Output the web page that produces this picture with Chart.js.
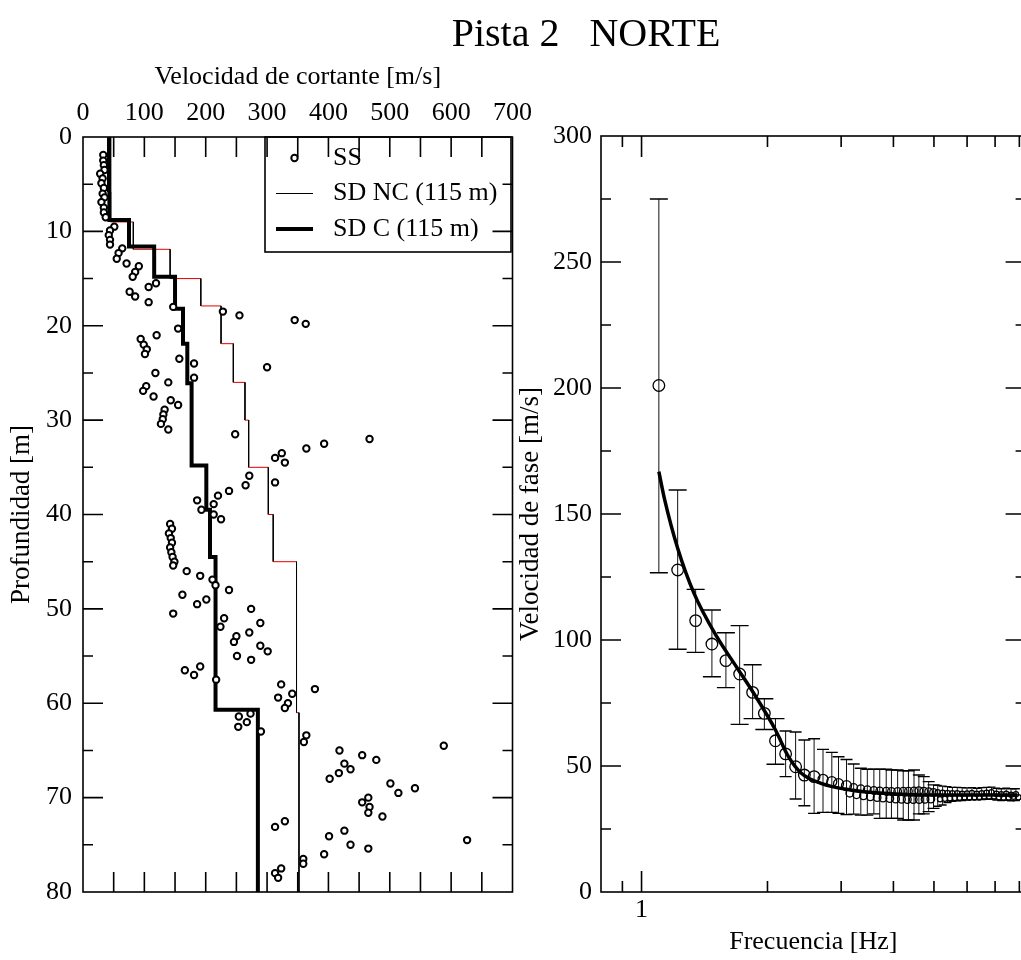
<!DOCTYPE html>
<html>
<head>
<meta charset="utf-8">
<title>Pista 2 NORTE</title>
<script src="https://cdn.jsdelivr.net/npm/chart.js@4/dist/chart.umd.min.js"></script>
<style>
  html, body { margin: 0; padding: 0; background: #fff; overflow: hidden; width: 1021px; height: 960px; }
  canvas { position: absolute; top: 0; }
  #perfil { left: 0; }
  #dispersion { left: 136px; }
</style>
</head>
<body>
<canvas id="perfil" width="540" height="960"></canvas>
<canvas id="dispersion" width="900" height="960"></canvas>
<script>
// ---------- Perfil de Vs (panel izquierdo) ----------
// SS: mediciones puntuales, profundidad [m] y velocidad [m/s]
const ssDepth = [
  1.9, 2.5, 3.0, 3.5, 3.9, 4.4, 4.9, 5.4, 6.0, 6.4,
  6.9, 7.5, 8.0, 8.5, 9.5, 9.9, 10.4, 10.9, 11.4, 11.8,
  12.3, 12.9, 13.4, 13.7, 14.3, 14.8, 15.5, 15.9, 16.4, 16.9,
  17.5, 18.0, 18.5, 18.9, 19.4, 19.8, 20.3, 21.0, 21.4, 22.0,
  22.5, 23.0, 23.5, 24.0, 24.4, 25.0, 25.5, 26.0, 26.4, 26.9,
  27.5, 27.9, 28.4, 28.9, 29.4, 29.9, 30.4, 31.0, 31.5, 32.0,
  32.5, 33.0, 33.5, 34.0, 34.5, 35.9, 36.6, 36.9, 37.5, 38.0,
  38.5, 38.9, 39.5, 40.0, 40.5, 41.0, 41.5, 42.0, 42.5, 43.0,
  43.5, 44.0, 44.5, 45.0, 45.4, 46.0, 46.5, 46.9, 47.5, 48.0,
  48.5, 49.0, 49.5, 50.0, 50.5, 51.0, 51.5, 51.9, 52.5, 52.9,
  53.5, 53.9, 54.5, 55.0, 55.4, 56.1, 56.5, 57.0, 57.5, 58.0,
  58.5, 59.0, 59.4, 60.0, 60.5, 61.1, 61.4, 62.0, 62.5, 63.0,
  63.4, 64.1, 64.5, 65.0, 65.5, 66.0, 66.4, 67.0, 67.4, 68.0,
  68.5, 69.0, 69.5, 70.0, 70.5, 71.0, 71.6, 72.0, 72.5, 73.1,
  73.5, 74.1, 74.5, 75.0, 75.4, 76.0, 76.5, 77.0, 77.5, 78.0,
  78.5
];
const ssVel = [
  33, 33, 34, 35, 28, 32, 30, 34, 32, 35,
  30, 34, 34, 37, 51, 44, 42, 44, 44, 64,
  58, 55, 71, 91, 85, 81, 119, 107, 76, 85,
  107, 147, 228, 255, 345, 363, 155, 120, 94, 99,
  104, 101, 157, 181, 300, 118, 181, 139, 103, 98,
  115, 143, 155, 133, 131, 130, 127, 139, 248, 467,
  393, 364, 324, 313, 329, 271, 313, 265, 238, 220,
  186, 213, 193, 213, 225, 142, 145, 140, 143, 145,
  142, 144, 146, 149, 147, 169, 191, 211, 216, 238,
  162, 201, 186, 274, 147, 230, 289, 224, 271, 250,
  246, 289, 301, 251, 274, 191, 166, 181, 217, 323,
  378, 341, 318, 334, 329, 273, 254, 267, 253, 290,
  364, 360, 588, 418, 455, 478, 426, 436, 417, 402,
  501, 541, 514, 465, 455, 467, 465, 488, 329, 313,
  426, 401, 626, 436, 465, 393, 359, 359, 323, 313,
  318
];

// modelos por capas: techo de cada capa [m] y su Vs [m/s]
const ncTop = [0, 5.8, 9.0, 11.9, 15.0, 17.9, 21.9, 26.0, 30.0, 35.0, 40.0, 45.0, 61.0];
const ncVel = [40, 45, 82, 142, 192, 225, 245, 264, 270, 302, 310, 348, 352];
const cTop = [0, 8.8, 11.6, 14.8, 18.2, 21.9, 26.1, 34.8, 39.5, 44.5, 60.7];
const cVel = [43, 75, 116, 150, 163, 170, 177, 201, 207, 216, 285];
const maxDepth = 80;

// ---------- Curva de dispersion (panel derecho) ----------
const freqA = [
  1.10, 1.22, 1.347, 1.473, 1.591, 1.716, 1.843, 1.966, 2.09, 2.21,
  2.335, 2.45, 2.585, 2.715, 2.85, 2.957, 3.09, 3.214, 3.343, 3.465,
  3.592, 3.71, 3.845, 3.957, 4.094, 4.222, 4.345, 4.48, 4.602, 4.727,
  4.856, 4.988, 5.105, 5.244, 5.387, 5.534, 5.685, 5.84, 5.998, 6.162,
  6.33, 6.503, 6.68, 6.862, 7.05, 7.242, 7.44, 7.643, 7.85
];
const velA = [
  201, 127.8, 107.7, 98.4, 91.8, 86.5, 79.2, 70.9, 60.0, 54.8,
  49.7, 46.4, 45.8, 44.7, 43.8, 43.0, 42.2, 41.5, 41.0, 40.6,
  40.3, 40.1, 40.0, 39.9, 39.9, 40.0, 40.0, 40.1, 40.2, 40.0,
  39.8, 39.5, 39.6, 39.4, 39.3, 39.2, 39.2, 39.0, 39.1, 39.3,
  39.0, 39.2, 39.4, 39.6, 39.0, 38.8, 39.0, 38.6, 38.8
];
const loA = [
  126.7, 96.3, 95.1, 85.4, 81.1, 66.5, 68.8, 64.5, 50.7, 45.8,
  36.9, 34.2, 31.2, 31.6, 31.6, 31.2, 30.7, 30.9, 30.5, 30.5,
  31.0, 29.2, 29.2, 29.2, 29.2, 28.6, 28.6, 28.6, 31.0, 31.0,
  31.9, 33.2, 34.0, 34.5, 35.5, 36.0, 36.2, 36.3, 36.5, 36.6,
  36.6, 36.7, 36.8, 36.8, 36.5, 36.3, 36.4, 36.2, 36.3
];
const hiA = [
  275, 159.5, 120.1, 111.9, 102.9, 105.7, 90.2, 76.7, 68.8, 63.9,
  63.5, 60.3, 60.8, 56.6, 55.4, 53.7, 52.6, 50.8, 49.1, 48.7,
  48.7, 48.7, 48.7, 48.4, 48.4, 48.1, 48.1, 48.4, 46.4, 45.8,
  43.8, 42.5, 42.3, 42.0, 41.8, 41.5, 41.5, 41.4, 41.3, 41.4,
  41.2, 41.4, 41.5, 41.6, 41.2, 41.0, 41.2, 41.0, 41.0
];
// segunda rama de puntos (sin barras)
const freqB = [
  3.146, 3.266, 3.392, 3.522, 3.657, 3.777, 3.922, 4.05, 4.183, 4.32,
  4.462, 4.609, 4.76, 4.916, 5.17, 5.31, 5.46, 5.61, 5.76, 5.92,
  6.08, 6.25, 6.42, 6.59, 6.77, 6.96, 7.15, 7.34, 7.54, 7.75, 7.96
];
const velB = [
  39.2, 38.6, 38.2, 37.8, 37.5, 37.3, 37.1, 36.9, 36.8, 36.7,
  36.7, 36.7, 36.8, 36.9, 36.8, 37.0, 37.2, 37.3, 37.4, 37.5,
  37.5, 37.6, 37.6, 37.8, 37.8, 37.9, 37.6, 37.4, 37.5, 37.8, 37.6
];
// curva teorica del modelo
const fitFreq = [1.10, 1.136, 1.22, 1.335, 1.513, 1.685, 1.876, 2.09, 2.245, 2.41, 2.685, 3.155, 3.78, 4.94, 7.6, 7.9];
const fitVel = [166.8, 155.6, 136.4, 118.5, 101.3, 89.4, 77.5, 64.3, 53.7, 47.1, 43.1, 40.5, 39.2, 38.5, 38.5, 38.5];
const freqTicks = [0.9, 1, 2, 3, 4, 5, 6, 7, 8];

Chart.defaults.font.family = "'Liberation Serif', 'Times New Roman', serif";
Chart.defaults.color = '#000';

function layerSteps(tops, vels, bottom) {
  const pts = [];
  tops.forEach((t, i) => {
    const b = i + 1 < tops.length ? tops[i + 1] : bottom;
    pts.push({ x: vels[i], y: t }, { x: vels[i], y: b });
  });
  return pts;
}

function errorBarPoints(freq, lo, hi) {
  const pts = [];
  freq.forEach((f, i) => {
    pts.push({ x: f, y: lo[i] }, { x: f, y: hi[i] }, { x: f, y: null });
  });
  return pts;
}

// marco cerrado con ticks hacia adentro en los cuatro lados
const framePlugin = {
  id: 'frame',
  afterDraw(chart, args, opts) {
    const { ctx, chartArea: a } = chart;
    ctx.save();
    ctx.strokeStyle = '#000';
    ctx.lineWidth = 1.6;
    ctx.strokeRect(a.left, a.top, a.right - a.left, a.bottom - a.top);
    ctx.beginPath();
    Object.values(chart.scales).forEach(s => {
      const [major, minor] = opts.tick[s.id];
      s.ticks.forEach(t => {
        const len = t.label !== '' ? major : minor;
        const p = s.getPixelForValue(t.value);
        if (s.isHorizontal()) {
          if (p <= a.left + 0.5 || p >= a.right - 0.5) return;
          ctx.moveTo(p, a.top); ctx.lineTo(p, a.top + len);
          ctx.moveTo(p, a.bottom); ctx.lineTo(p, a.bottom - len);
        } else {
          if (p <= a.top + 0.5 || p >= a.bottom - 0.5) return;
          ctx.moveTo(a.left, p); ctx.lineTo(a.left + len, p);
          ctx.moveTo(a.right, p); ctx.lineTo(a.right - len, p);
        }
      });
    });
    ctx.stroke();
    ctx.restore();
  }
};

// leyenda en recuadro dentro del area del grafico
const legendBox = {
  id: 'legendBox',
  afterDraw(chart, args, o) {
    const { ctx } = chart;
    ctx.save();
    ctx.strokeStyle = '#000';
    ctx.lineWidth = 1.6;
    ctx.strokeRect(o.left, o.top, o.width, o.height);
    ctx.font = "26px 'Liberation Serif', 'Times New Roman', serif";
    ctx.textBaseline = 'middle';
    chart.data.datasets.forEach((ds, i) => {
      const y = o.rowY + i * o.rowGap;
      const x0 = o.symbolX, x1 = o.symbolX + o.symbolW;
      ctx.beginPath();
      if (ds.showLine === false) {
        ctx.arc((x0 + x1) / 2, y, ds.pointRadius, 0, 2 * Math.PI);
        ctx.fillStyle = ds.pointBackgroundColor;
        ctx.fill();
        ctx.lineWidth = ds.pointBorderWidth;
      } else {
        ctx.moveTo(x0, y);
        ctx.lineTo(x1, y);
        ctx.lineWidth = ds.borderWidth;
      }
      ctx.stroke();
      ctx.fillStyle = '#000';
      ctx.fillText(ds.label, o.textX, y);
    });
    ctx.restore();
  }
};

new Chart(document.getElementById('perfil'), {
  type: 'line',
  data: {
    datasets: [
      {
        label: 'SS',
        data: ssDepth.map((d, i) => ({ x: ssVel[i], y: d })),
        showLine: false,
        pointRadius: 3.2,
        pointBorderWidth: 2,
        pointBorderColor: '#000',
        pointBackgroundColor: '#fff',
        order: 0
      },
      {
        label: 'SD NC (115 m)',
        data: layerSteps(ncTop, ncVel, maxDepth),
        borderColor: '#000',
        borderWidth: 1,
        pointRadius: 0,
        segment: { borderColor: c => c.p0.parsed.y === c.p1.parsed.y ? '#e00000' : '#000' },
        order: 2
      },
      {
        label: 'SD C (115 m)',
        data: layerSteps(cTop, cVel, maxDepth),
        borderColor: '#000',
        borderWidth: 4,
        pointRadius: 0,
        order: 1
      }
    ]
  },
  options: {
    responsive: false,
    animation: false,
    layout: { padding: { left: 0, top: 0, right: 25, bottom: 68 } },
    plugins: {
      legend: { display: false },
      tooltip: { enabled: false },
      frame: { tick: { x: [20, 20], y: [20, 10] } },
      legendBox: { left: 265, top: 137, width: 246, height: 115, rowY: 158, rowGap: 35.5, symbolX: 276, symbolW: 37, textX: 333 }
    },
    scales: {
      x: {
        type: 'linear', position: 'top', min: 0, max: 700,
        afterFit: s => { s.height = 137; },
        grid: { display: false, drawTicks: false },
        border: { display: false },
        ticks: { stepSize: 50, autoSkip: false, maxRotation: 0, padding: 8, font: { size: 26 },
                 callback: v => (v % 100 === 0 ? String(v) : '') },
        title: { display: true, text: 'Velocidad de cortante [m/s]', font: { size: 26 }, padding: { top: 62, bottom: 0 } }
      },
      y: {
        type: 'linear', reverse: true, min: 0, max: 80,
        afterFit: s => { s.width = 83; },
        grid: { display: false, drawTicks: false },
        border: { display: false },
        ticks: { stepSize: 5, autoSkip: false, padding: 11, font: { size: 26 },
                 callback: v => (v % 10 === 0 ? String(v) : '') },
        title: { display: true, text: 'Profundidad [m]', font: { size: 27 }, padding: { top: 6, bottom: 0 } }
      }
    }
  },
  plugins: [framePlugin, legendBox]
});

const circleRadius = c => {
  const f = c.raw ? c.raw.x : 1;
  return f < 2.6 ? 5.8 : f < 3.1 ? 5 : f < 5 ? 3.8 : 2.6;
};
const capRadius = c => {
  const f = c.raw ? c.raw.x : 1;
  return f < 2.2 ? 9 : f < 5 ? 6 : 4;
};

new Chart(document.getElementById('dispersion'), {
  type: 'line',
  data: {
    datasets: [
      {
        label: 'Modelo',
        data: fitFreq.map((f, i) => ({ x: f, y: fitVel[i] })),
        borderColor: '#000',
        borderWidth: 3.5,
        pointRadius: 0,
        cubicInterpolationMode: 'monotone',
        order: 0
      },
      {
        label: 'Observada',
        data: freqA.map((f, i) => ({ x: f, y: velA[i] })),
        showLine: false,
        pointRadius: circleRadius,
        pointBorderWidth: 1.3,
        pointBorderColor: '#000',
        pointBackgroundColor: 'rgba(0,0,0,0)',
        order: 1
      },
      {
        label: 'Observada 2',
        data: freqB.map((f, i) => ({ x: f, y: velB[i] })),
        showLine: false,
        pointRadius: circleRadius,
        pointBorderWidth: 1.3,
        pointBorderColor: '#000',
        pointBackgroundColor: 'rgba(0,0,0,0)',
        order: 1
      },
      {
        label: 'Desviacion',
        data: errorBarPoints(freqA, loA, hiA),
        borderColor: '#111',
        borderWidth: 1,
        spanGaps: false,
        pointStyle: 'line',
        pointRadius: capRadius,
        pointBorderWidth: 1.4,
        pointBorderColor: '#000',
        order: 2
      }
    ]
  },
  options: {
    responsive: false,
    animation: false,
    layout: { padding: 0 },
    plugins: {
      legend: { display: false },
      tooltip: { enabled: false },
      title: { display: true, text: 'Pista 2   NORTE', font: { size: 40, weight: 'normal' }, padding: { top: 11, bottom: 77 } },
      frame: { tick: { x: [21, 11], y: [20, 10] } }
    },
    scales: {
      x: {
        type: 'logarithmic', position: 'bottom', min: 0.8, max: 8.28,
        afterFit: s => { s.height = 68; },
        afterBuildTicks: s => { s.ticks = freqTicks.map(v => ({ value: v })); },
        grid: { display: false, drawTicks: false },
        border: { display: false },
        ticks: { autoSkip: false, maxRotation: 0, padding: 3, font: { size: 26 },
                 callback: v => (v === 1 ? '1' : '') },
        title: { display: true, text: 'Frecuencia [Hz]', font: { size: 26 }, padding: { top: 0, bottom: 2 } }
      },
      y: {
        type: 'linear', min: 0, max: 300,
        afterFit: s => { s.width = 465; },
        grid: { display: false, drawTicks: false },
        border: { display: false },
        ticks: { stepSize: 25, autoSkip: false, padding: 9, font: { size: 26 },
                 callback: v => (v % 50 === 0 ? String(v) : '') },
        title: { display: true, text: 'Velocidad de fase [m/s]', font: { size: 27 }, padding: { top: 379, bottom: 0 } }
      }
    }
  },
  plugins: [framePlugin]
});
</script>
</body>
</html>
